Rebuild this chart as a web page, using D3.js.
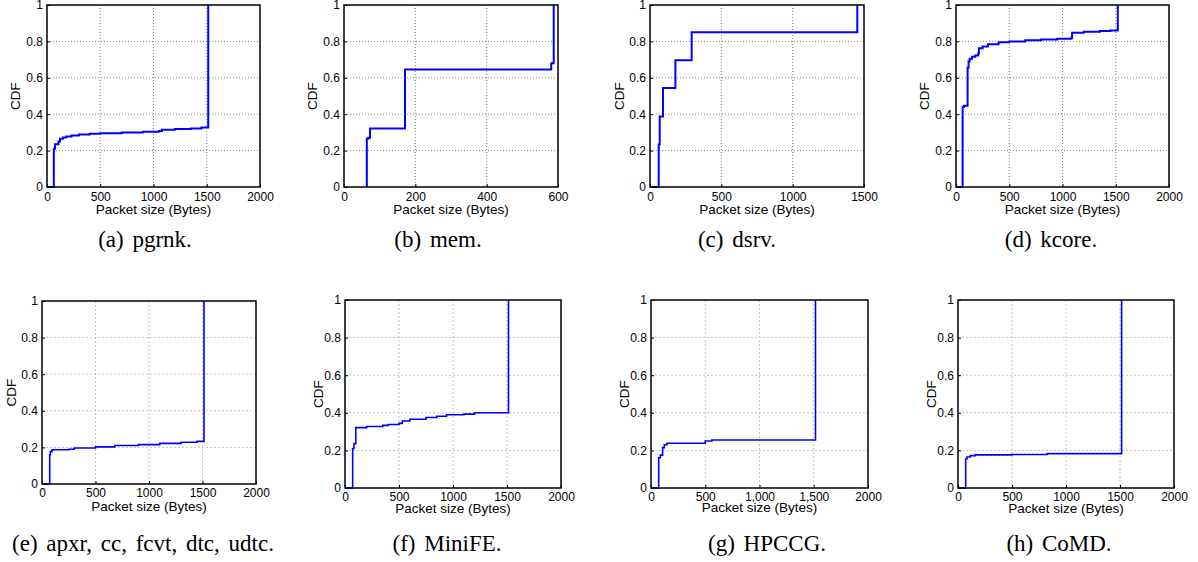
<!DOCTYPE html>
<meta charset="utf-8">
<script src="https://d3js.org/d3.v7.min.js"></script>
<style>
body { margin: 0; background: #fff; }
text { font-family: "Liberation Sans", Arial, sans-serif; fill: #000; }
.tick text { font-size: 12px; }
.axis path { display: none; }
.axis line { stroke: #000; }
.xlabel, .ylabel { font-size: 13.5px; }
.caption { font-family: "Liberation Serif", "Times New Roman", serif; font-size: 23px; word-spacing: 3px; }
.frame { fill: none; stroke: #000; stroke-width: 1.5px; }
.cdf { fill: none; stroke: #0000ff; stroke-linejoin: miter; }
</style>
<body>
<script>

// tick values and labels
var yTicks = [0, 0.2, 0.4, 0.6, 0.8, 1];
var yTickLabels = ["0", "0.2", "0.4", "0.6", "0.8", "1"];
var xTicks2000 = [0, 500, 1000, 1500, 2000];
var xTickLabels2000 = ["0", "500", "1000", "1500", "2000"];
var xTicks600 = [0, 200, 400, 600];
var xTickLabels600 = ["0", "200", "400", "600"];
var xTicks1500 = [0, 500, 1000, 1500];
var xTickLabels1500 = ["0", "500", "1000", "1500"];
var hpccgTickLabels = ["0", "500", "1,000", "1,500", "2000"];

// captions
var captions = ["(a) pgrnk.", "(b) mem.", "(c) dsrv.", "(d) kcore.",
  "(e) apxr, cc, fcvt, dtc, udtc.", "(f) MiniFE.", "(g) HPCCG.", "(h) CoMD."];

// CDF points [packet size, cdf] (step after)
var pgrnk = [[0,0],[64,0.21],[75,0.235],[108,0.25],[122,0.265],[150,0.272],[180,0.277],[230,0.283],
  [300,0.288],[400,0.292],[500,0.296],[700,0.300],[900,0.304],[1050,0.308],[1080,0.315],[1200,0.318],
  [1350,0.322],[1450,0.327],[1514,1]];
var mem = [[64,0],[64,0.265],[68,0.27],[73,0.322],[171,0.645],[581,0.68],[588,1]];
var dsrv = [[0,0],[61,0.234],[68,0.388],[91,0.544],[178,0.696],[292,0.85],[1453,1]];
var kcore = [[0,0],[62,0.44],[75,0.447],[109,0.655],[118,0.69],[128,0.705],[150,0.715],[180,0.722],
  [209,0.733],[215,0.763],[250,0.772],[300,0.785],[400,0.795],[500,0.8],[650,0.806],[800,0.81],
  [950,0.815],[1084,0.82],[1090,0.848],[1200,0.853],[1350,0.857],[1450,0.86],[1519,1]];
var apxr = [[0,0],[72,0.16],[78,0.177],[93,0.187],[250,0.19],[300,0.197],[500,0.203],[680,0.21],
  [900,0.215],[1100,0.222],[1300,0.228],[1450,0.233],[1514,1]];
var minife = [[0,0],[71,0.21],[83,0.236],[100,0.321],[200,0.327],[350,0.333],[400,0.338],[500,0.344],
  [530,0.356],[600,0.366],[750,0.375],[850,0.382],[940,0.39],[1100,0.393],[1200,0.4],[1514,1]];
var hpccg = [[0,0],[71,0.161],[86,0.175],[107,0.215],[123,0.23],[147,0.238],[500,0.25],[560,0.255],[1516,1]];
var comd = [[0,0],[71,0.154],[83,0.165],[114,0.172],[160,0.176],[500,0.178],[826,0.183],[1515,1]];

var series = [pgrnk, mem, dsrv, kcore, apxr, minife, hpccg, comd];
var xMax = [2000, 600, 1500, 2000, 2000, 2000, 2000, 2000];
var xTickSets = [xTicks2000, xTicks600, xTicks1500, xTicks2000, xTicks2000, xTicks2000, xTicks2000, xTicks2000];
var xLabelSets = [xTickLabels2000, xTickLabels600, xTickLabels1500, xTickLabels2000,
  xTickLabels2000, xTickLabels2000, hpccgTickLabels, xTickLabels2000];

// layout of each panel (pixels)
var layout = [
  {l: 47,  r: 260,  t: 5,   b: 187, yl: 32, xl: 27, cx: 145,  cy: 247, lw: 2,   row: 1},
  {l: 344, r: 558,  t: 5,   b: 187, yl: 32, xl: 27, cx: 438,  cy: 247, lw: 2,   row: 1},
  {l: 650, r: 864,  t: 5,   b: 187, yl: 31, xl: 27, cx: 737,  cy: 247, lw: 2,   row: 1},
  {l: 956, r: 1169, t: 5,   b: 187, yl: 32, xl: 27, cx: 1051, cy: 247, lw: 2,   row: 1},
  {l: 42,  r: 256,  t: 301, b: 484, yl: 31, xl: 27, cx: 143,  cy: 551, lw: 1.6, row: 2},
  {l: 345, r: 561,  t: 300, b: 488, yl: 27, xl: 25, cx: 447,  cy: 551, lw: 1.6, row: 2},
  {l: 651, r: 868,  t: 300, b: 488, yl: 27, xl: 24, cx: 767,  cy: 551, lw: 1.6, row: 2},
  {l: 958, r: 1174, t: 300, b: 488, yl: 27, xl: 25, cx: 1059, cy: 551, lw: 1.6, row: 2}
];

var svg = d3.select("body").append("svg")
    .attr("width", 1198)
    .attr("height", 562);

layout.forEach(function(p, i) {
  var w = p.r - p.l, h = p.b - p.t;
  var x = d3.scaleLinear().domain([0, xMax[i]]).range([0, w]);
  var y = d3.scaleLinear().domain([0, 1]).range([h, 0]);
  var g = svg.append("g").attr("transform", "translate(" + p.l + "," + p.t + ")");

  var gridColor = p.row == 1 ? "#888" : "#c4c4c4";
  var gridDash = p.row == 1 ? "1,2" : "2,2";

  // grid
  g.append("g").selectAll("line")
    .data(xTickSets[i].slice(1, -1))
    .enter().append("line")
    .attr("x1", function(d) { return x(d); })
    .attr("x2", function(d) { return x(d); })
    .attr("y1", 0).attr("y2", h)
    .style("stroke", gridColor).style("stroke-dasharray", gridDash);
  g.append("g").selectAll("line")
    .data(yTicks.slice(1, -1))
    .enter().append("line")
    .attr("y1", function(d) { return y(d); })
    .attr("y2", function(d) { return y(d); })
    .attr("x1", 0).attr("x2", w)
    .style("stroke", gridColor).style("stroke-dasharray", gridDash);

  // axes
  g.append("g").attr("class", "axis")
    .attr("transform", "translate(0," + h + ")")
    .call(d3.axisBottom(x).tickValues(xTickSets[i]).tickSize(-3).tickPadding(p.row == 1 ? 5.5 : 4.5)
      .tickFormat(function(d, k) { return xLabelSets[i][k]; }));
  g.append("g").attr("class", "axis")
    .call(d3.axisLeft(y).tickValues(yTicks).tickSize(-3).tickPadding(4)
      .tickFormat(function(d, k) { return yTickLabels[k]; }));

  // line
  var line = d3.line()
    .x(function(d) { return x(d[0]); })
    .y(function(d) { return y(d[1]); })
    .curve(d3.curveStepAfter);
  g.append("path").attr("class", "cdf")
    .datum(series[i])
    .attr("d", line)
    .style("stroke-width", p.lw);

  g.append("rect").attr("class", "frame")
    .attr("width", w).attr("height", h);

  // labels
  g.append("text").attr("class", "xlabel")
    .attr("x", w / 2).attr("y", h + p.xl)
    .attr("text-anchor", "middle")
    .text("Packet size (Bytes)");
  g.append("text").attr("class", "ylabel")
    .attr("transform", "translate(" + (-p.yl + 5) + "," + (h / 2) + ") rotate(-90)")
    .attr("text-anchor", "middle")
    .text("CDF");

  svg.append("text").attr("class", "caption")
    .attr("x", p.cx).attr("y", p.cy)
    .attr("text-anchor", "middle")
    .text(captions[i]);
});

</script>
</body>
</html>
